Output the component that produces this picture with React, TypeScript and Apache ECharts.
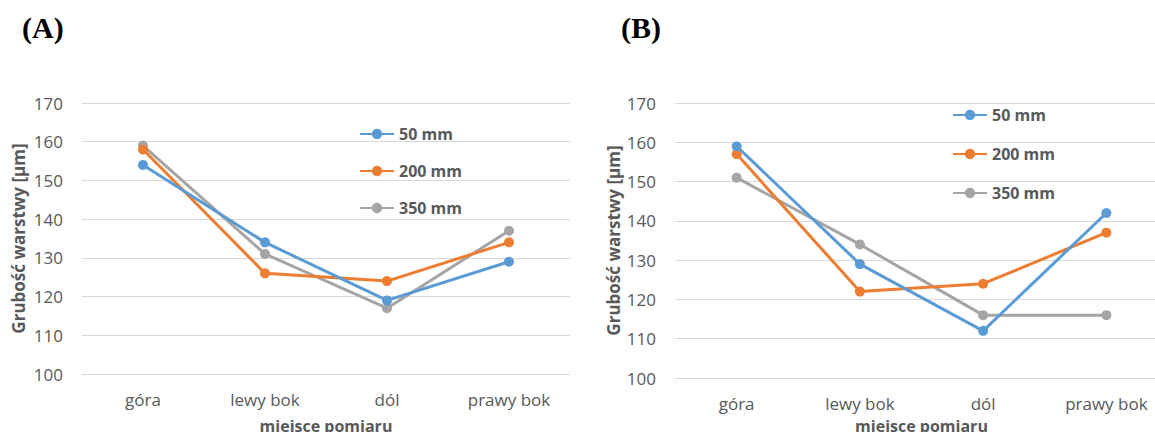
import React, { useEffect, useRef } from "react";
import * as echarts from "echarts";

const categories = ["góra", "lewy bok", "dól", "prawy bok"];
const seriesNames = ["50 mm", "200 mm", "350 mm"];
const colors = ["#5B9BD5", "#ED7D31", "#A5A5A5"];

const panelA50 = [154, 134, 119, 129];
const panelA200 = [158, 126, 124, 134];
const panelA350 = [159, 131, 117, 137];

const panelB50 = [159, 129, 112, 142];
const panelB200 = [157, 122, 124, 137];
const panelB350 = [151, 134, 116, 116];

const yTicks = { min: 100, max: 170, interval: 10 };
const panelTitles = ["(A)", "(B)"];
const xTitle = "miejsce pomiaru";
const yTitle = "Grubość warstwy [µm]";

const FONT = "'Open Sans', 'Noto Sans', sans-serif";
const TXT = "#595959";

export default function App() {
  const ref = useRef<HTMLDivElement>(null);
  useEffect(() => {
    if (!ref.current) return;
    const chart = echarts.init(ref.current, null, { renderer: "svg" });

    const grids = [
      { left: 82, top: 103, width: 488, height: 271, outerBoundsMode: "none", containLabel: false },
      { left: 675, top: 103, width: 493, height: 275, outerBoundsMode: "none", containLabel: false },
    ];
    const nameGapsX = [44, 40];
    const nameGapsY = [55, 53];

    const xAxis = grids.map((_, i) => ({
      type: "category",
      gridIndex: i,
      data: categories,
      boundaryGap: true,
      axisLine: { show: true, lineStyle: { color: "#d9d9d9", width: 1 } },
      axisTick: { show: false },
      axisLabel: { color: TXT, fontSize: 17, fontFamily: FONT, margin: 17 },
      name: xTitle,
      nameLocation: "middle",
      nameGap: nameGapsX[i],
      nameTextStyle: { color: TXT, fontSize: 16, fontWeight: "bold", fontFamily: FONT },
    }));

    const yAxis = grids.map((_, i) => ({
      type: "value",
      gridIndex: i,
      min: yTicks.min,
      max: yTicks.max,
      interval: yTicks.interval,
      axisLine: { show: false },
      axisTick: { show: false },
      splitLine: { show: true, lineStyle: { color: "#d9d9d9", width: 1 } },
      axisLabel: { color: TXT, fontSize: 17, fontFamily: FONT, margin: 19 },
      name: yTitle,
      nameLocation: "middle",
      nameGap: nameGapsY[i],
      nameTextStyle: { color: TXT, fontSize: 17, fontWeight: "bold", fontFamily: FONT },
    }));

    const dataA = [panelA50, panelA200, panelA350];
    const dataB = [panelB50, panelB200, panelB350];

    const mk = (name: string, data: number[], idx: number, panel: number) => ({
      type: "line",
      name: panel === 0 ? name : name + " ",
      xAxisIndex: panel,
      yAxisIndex: panel,
      data,
      symbol: "circle",
      symbolSize: 10,
      lineStyle: { color: colors[idx], width: 3 },
      itemStyle: { color: colors[idx] },
      z: 10 - idx,
    });

    const series = [
      ...dataA.map((d, i) => mk(seriesNames[i], d, i, 0)),
      ...dataB.map((d, i) => mk(seriesNames[i], d, i, 1)),
    ];

    const legendText = { color: TXT, fontSize: 16, fontWeight: "bold", fontFamily: FONT, lineHeight: 16 };

    chart.setOption({
      animation: false,
      color: colors,
      grid: grids,
      xAxis,
      yAxis,
      series,
      legend: [
        {
          orient: "vertical",
          left: 359,
          top: 126,
          padding: 0,
          itemWidth: 34,
          itemHeight: 13,
          itemGap: 21,
          data: seriesNames,
          textStyle: legendText,
          selectedMode: false,
        },
        {
          orient: "vertical",
          left: 952,
          top: 107,
          padding: 0,
          itemWidth: 34,
          itemHeight: 13,
          itemGap: 23,
          data: seriesNames.map((n) => n + " "),
          textStyle: legendText,
          selectedMode: false,
        },
      ],
      graphic: [
        {
          type: "text",
          left: 22,
          top: 12,
          style: { text: panelTitles[0], font: "bold 30px 'Liberation Serif', 'Times New Roman', serif", fill: "#000" },
        },
        {
          type: "text",
          left: 621,
          top: 12,
          style: { text: panelTitles[1], font: "bold 30px 'Liberation Serif', 'Times New Roman', serif", fill: "#000" },
        },
      ],
    });
    return () => chart.dispose();
  }, []);
  return (
    <div
      ref={ref}
      style={{ position: "fixed", left: 0, top: 0, width: 1155, height: 432, background: "#fff" }}
    />
  );
}
